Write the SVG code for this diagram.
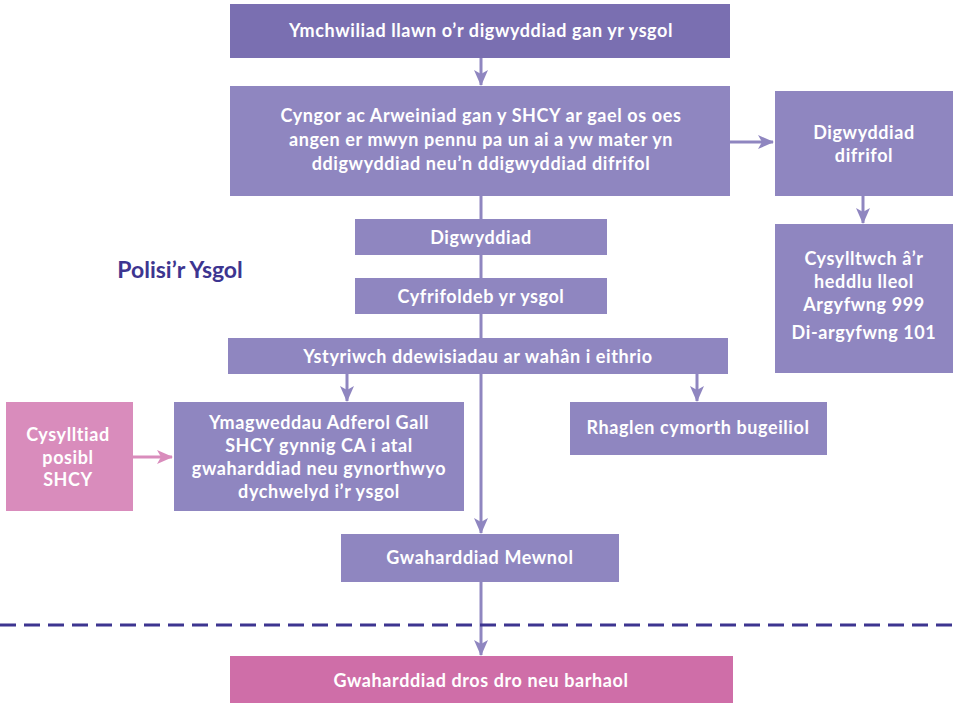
<svg xmlns="http://www.w3.org/2000/svg" width="956" height="704" viewBox="0 0 956 704">
<defs>
<marker id="ah" viewBox="0 0 16 16" refX="15" refY="8" markerWidth="16" markerHeight="16" markerUnits="userSpaceOnUse" orient="auto">
<path d="M0,1 L16,8 L0,15 L4,8 Z" fill="#8f86c0"/>
</marker>
<marker id="ahp" viewBox="0 0 16 16" refX="15" refY="8" markerWidth="16" markerHeight="16" markerUnits="userSpaceOnUse" orient="auto">
<path d="M0,1 L16,8 L0,15 L4,8 Z" fill="#d98cbc"/>
</marker>
</defs>
<style>
.b{fill:#8f86c0}
.d{fill:#7a6fb1}
.p{fill:#d98cbc}
.pk{fill:#cf6ea8}
text{font-family:Lato,"Open Sans","Liberation Sans",sans-serif;font-weight:bold;font-size:18px;letter-spacing:0.6px;fill:#fff;text-anchor:middle}
.c{stroke:#8f86c0;stroke-width:3;fill:none}
</style>
<rect width="956" height="704" fill="#fff"/>
<g id="connectors">
<line class="c" x1="481" y1="58" x2="481" y2="85" marker-end="url(#ah)"/>
<line class="c" x1="730" y1="142" x2="773" y2="142" marker-end="url(#ah)"/>
<line class="c" x1="863" y1="196" x2="863" y2="223" marker-end="url(#ah)"/>
<line class="c" x1="481" y1="196" x2="481" y2="533" marker-end="url(#ah)"/>
<line class="c" x1="347" y1="374" x2="347" y2="401" marker-end="url(#ah)"/>
<line class="c" x1="697" y1="374" x2="697" y2="401" marker-end="url(#ah)"/>
<line x1="133" y1="457" x2="172" y2="457" stroke="#d98cbc" stroke-width="3" marker-end="url(#ahp)"/>
<line class="c" x1="481" y1="582" x2="481" y2="655" marker-end="url(#ah)"/>
</g>
<line x1="0" y1="625" x2="956" y2="625" stroke="#3d3590" stroke-width="3" stroke-dasharray="16,8"/>
<g id="n1"><rect class="d" x="230" y="4" width="500" height="54"/><text x="481" y="37">Ymchwiliad llawn o’r digwyddiad gan yr ysgol</text></g>
<g id="n2"><rect class="b" x="230" y="86" width="500" height="110"/>
<text x="481" y="122">Cyngor ac Arweiniad gan y SHCY ar gael os oes</text>
<text x="481" y="146">angen er mwyn pennu pa un ai a yw mater yn</text>
<text x="481" y="170">ddigwyddiad neu’n ddigwyddiad difrifol</text></g>
<g id="n3"><rect class="b" x="775" y="91" width="178" height="105"/>
<text x="864" y="139">Digwyddiad</text><text x="864" y="162">difrifol</text></g>
<g id="n4"><rect class="b" x="775" y="224" width="178" height="149"/>
<text x="864" y="265">Cysylltwch â’r</text><text x="864" y="288">heddlu lleol</text><text x="864" y="311">Argyfwng 999</text><text x="864" y="339">Di-argyfwng 101</text></g>
<g id="n5"><rect class="b" x="355" y="219" width="252" height="36"/><text x="481" y="244">Digwyddiad</text></g>
<g id="n6"><rect class="b" x="355" y="278" width="252" height="36"/><text x="481" y="303">Cyfrifoldeb yr ysgol</text></g>
<g id="n7"><rect class="b" x="228" y="338" width="500" height="36"/><text x="478" y="363">Ystyriwch ddewisiadau ar wahân i eithrio</text></g>
<g id="n8"><rect class="b" x="174" y="402" width="290" height="109"/>
<text x="319" y="429">Ymagweddau Adferol Gall</text><text x="319" y="452">SHCY gynnig CA i atal</text><text x="319" y="475">gwaharddiad neu gynorthwyo</text><text x="319" y="498">dychwelyd i’r ysgol</text></g>
<g id="n9"><rect class="p" x="6" y="402" width="127" height="109"/>
<text x="68" y="441">Cysylltiad</text><text x="68" y="464">posibl</text><text x="68" y="486">SHCY</text></g>
<g id="n10"><rect class="b" x="570" y="402" width="257" height="53"/><text x="698" y="434">Rhaglen cymorth bugeiliol</text></g>
<g id="n11"><rect class="b" x="341" y="534" width="278" height="48"/><text x="480" y="564">Gwaharddiad Mewnol</text></g>
<g id="n12"><rect class="pk" x="230" y="656" width="503" height="47"/><text x="481" y="687">Gwaharddiad dros dro neu barhaol</text></g>
<text x="180" y="278" style="fill:#3d3590;font-size:23px;letter-spacing:0">Polisi’r Ysgol</text>
</svg>
